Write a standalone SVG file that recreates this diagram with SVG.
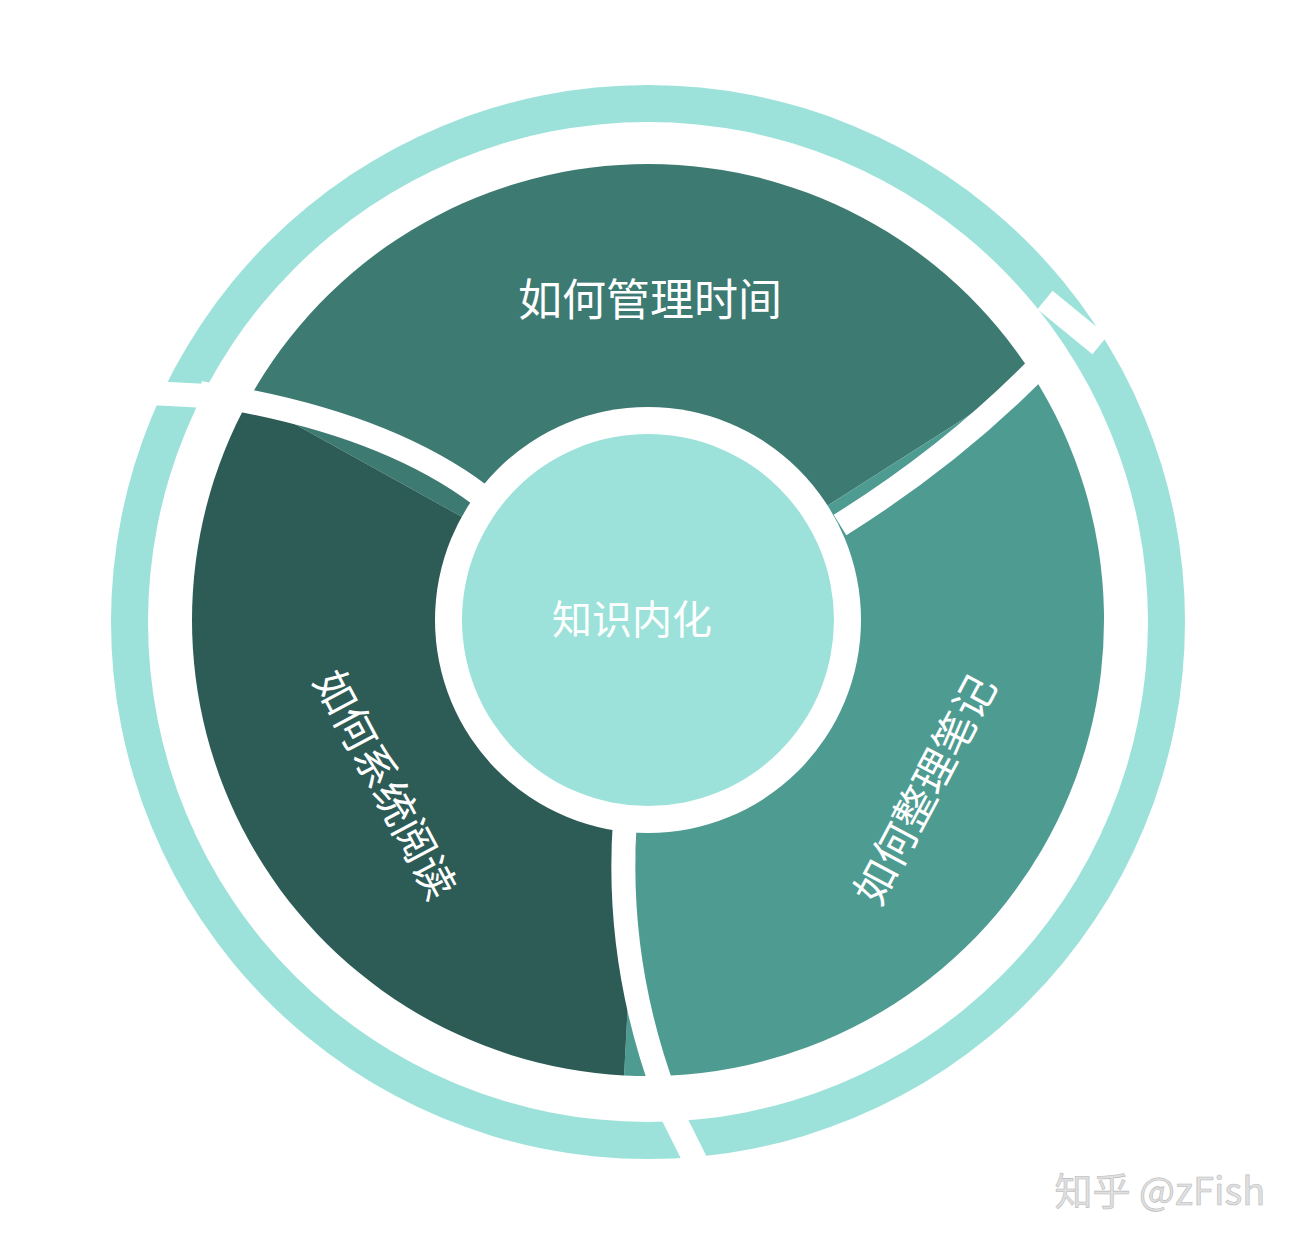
<svg xmlns="http://www.w3.org/2000/svg" width="1302" height="1244" viewBox="0 0 1302 1244">
<style>
.gap{stroke:#fff;stroke-width:24;fill:none}
.t{font-family:"Noto Sans CJK SC","Noto Sans",sans-serif;fill:#fff}
</style>
<rect width="1302" height="1244" fill="#fff"/>
<g id="outer-ring">
<circle cx="648" cy="622" r="537" fill="#9ce2da"/>
<circle cx="648" cy="622" r="500" fill="#fff"/>
</g>
<g id="seg-top"><path d="M648,620 L249.2,398.9 A456,456 0 0 1 1032.6,375 Z" fill="#3d7a72"/></g>
<g id="seg-right"><path d="M648,620 L1032.6,375 A456,456 0 0 1 624.1,1075.4 Z" fill="#4e9b91"/></g>
<g id="seg-left"><path d="M648,620 L624.1,1075.4 A456,456 0 0 1 249.2,398.9 Z" fill="#2d5b56"/></g>
<g id="connectors">
<path class="gap" d="M480,495 Q380,420 200,393"/>
<path class="gap" d="M840,525 Q960,450 1050,355"/>
<path class="gap" d="M625,820 Q615,960 665,1095"/>
<path class="gap" d="M150,393 L245,398"/>
<path class="gap" d="M1045,300 L1100,345"/>
<path class="gap" d="M660,1090 L700,1170"/>
</g>
<g id="center">
<circle cx="648" cy="620" r="213" fill="#fff"/>
<circle cx="648" cy="620" r="186" fill="#9ce2da"/>
<text class="t" x="632" y="634" font-size="40" text-anchor="middle">知识内化</text>
</g>
<text class="t" x="650" y="316" font-size="44" text-anchor="middle">如何管理时间</text>
<text class="t" transform="translate(388,783) rotate(62)" font-size="42" text-anchor="middle" dominant-baseline="central">如何系统阅读</text>
<text class="t" transform="translate(922,788) rotate(-62)" font-size="42" text-anchor="middle" dominant-baseline="central">如何整理笔记</text>
<text x="1160" y="1205" font-size="38" text-anchor="middle" font-family="Noto Sans CJK SC,sans-serif" fill="#e0e0e0" stroke="#bbb" stroke-width="0.6">知乎 @zFish</text>
</svg>
